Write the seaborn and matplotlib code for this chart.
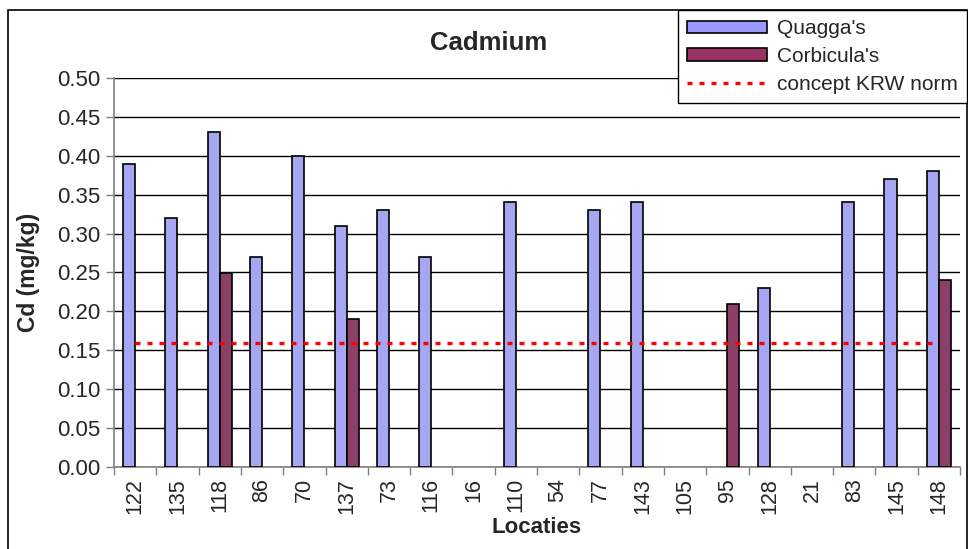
import numpy as np
import pandas as pd
import seaborn as sns
import matplotlib
matplotlib.use("Agg")
import matplotlib.pyplot as plt
from matplotlib.patches import Patch, Rectangle
from matplotlib.lines import Line2D
from matplotlib.ticker import FixedLocator, FormatStrFormatter, MultipleLocator

# Gegevens (Cd in mg/kg)
locaties = ["122", "135", "118", "86", "70", "137", "73", "116", "16", "110",
            "54", "77", "143", "105", "95", "128", "21", "83", "145", "148"]
quagga = [0.39, 0.32, 0.43, 0.27, 0.40, 0.31, 0.33, 0.27, np.nan, 0.34,
          np.nan, 0.33, 0.34, np.nan, np.nan, 0.23, np.nan, 0.34, 0.37, 0.38]
corbicula = [np.nan, np.nan, 0.25, np.nan, np.nan, 0.19, np.nan, np.nan, np.nan, np.nan,
             np.nan, np.nan, np.nan, np.nan, 0.21, np.nan, np.nan, np.nan, np.nan, 0.24]
krw_norm = [0.16] * len(locaties)

soorten = ["Quagga's", "Corbicula's"]
kleuren = {"Quagga's": "#9999FF", "Corbicula's": "#993366"}
norm_stijl = (0, (1.5, 2.1))

df = pd.DataFrame({
    "Locaties": locaties * 2,
    "Cd": quagga + corbicula,
    "Soort": [soorten[0]] * len(locaties) + [soorten[1]] * len(locaties),
})

sns.set_theme(style="white")
plt.rcParams['font.family'] = ['Liberation Sans', 'DejaVu Sans']

fig = plt.figure(figsize=(9.68, 5.49), dpi=100)
ax = fig.add_axes([114 / 968, 1 - 467 / 549, (960 - 114) / 968, (467 - 78) / 549])

sns.barplot(data=df, x="Locaties", y="Cd", hue="Soort", order=locaties,
            hue_order=soorten, palette=kleuren, width=0.57, gap=0,
            edgecolor="black", linewidth=1.2, legend=False, ax=ax, zorder=3)

sns.lineplot(x=np.arange(len(locaties)), y=krw_norm, color="red", linewidth=2.4,
             linestyle=norm_stijl, ax=ax, zorder=4)

ax.set_xlim(-0.5, len(locaties) - 0.5)
ax.set_ylim(0, 0.5)
ax.yaxis.set_major_locator(MultipleLocator(0.05))
ax.yaxis.set_major_formatter(FormatStrFormatter("%.2f"))
ax.yaxis.grid(True, color="black", linewidth=1)
ax.set_axisbelow(True)

ax.set_xticks(np.arange(len(locaties)))
ax.set_xticklabels(locaties, rotation=90)
ax.xaxis.set_minor_locator(FixedLocator(np.arange(len(locaties) + 1) - 0.5))
ax.tick_params(axis="x", which="major", length=0, pad=8, labelsize=15.5)
ax.tick_params(axis="x", which="minor", length=6, width=1, color="#808080", direction="out", bottom=True)
ax.tick_params(axis="y", which="major", length=6, width=1, color="#808080", direction="out", left=True,
               labelsize=16, pad=4)

for s in ["top", "right"]:
    ax.spines[s].set_visible(False)
for s in ["left", "bottom"]:
    ax.spines[s].set_color("#808080")
    ax.spines[s].set_linewidth(1.2)

ax.set_xlabel("Locaties", fontsize=16, fontweight="bold", labelpad=2)
ax.set_ylabel("Cd (mg/kg)", fontsize=16.5, fontweight="bold", labelpad=12)
fig.text(489 / 968, 1 - 43 / 549, "Cadmium", fontsize=18.5, fontweight="bold",
         ha="center", va="center")

handles = [
    Patch(facecolor=kleuren[soorten[0]], edgecolor="black", linewidth=1.2),
    Patch(facecolor=kleuren[soorten[1]], edgecolor="black", linewidth=1.2),
    Line2D([0], [0], color="red", linewidth=2.4, linestyle=norm_stijl),
]
leg = fig.legend(handles, soorten + ["concept KRW norm"], loc="upper right",
                 bbox_to_anchor=(967 / 968, 1 - 10 / 549), bbox_transform=fig.transFigure,
                 fontsize=15, frameon=True, fancybox=False, framealpha=1,
                 handlelength=3.85, handleheight=0.55, handletextpad=0.45,
                 labelspacing=0.42, borderpad=0.45, borderaxespad=0)
leg.get_frame().set_edgecolor("black")
leg.get_frame().set_linewidth(1)

# Rand om de hele grafiek
fig.patches.append(Rectangle((8 / 968, -0.1), (967 - 8) / 968, 1.1 - 10 / 549,
                             transform=fig.transFigure, fill=False,
                             edgecolor="black", linewidth=1.2, zorder=0))

fig.savefig("out.png", dpi=100)
